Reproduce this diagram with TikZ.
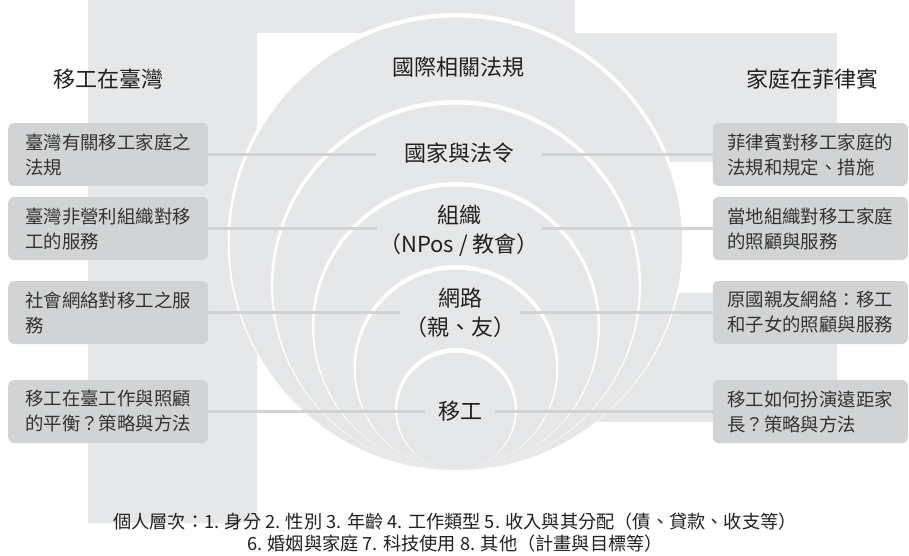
\documentclass[tikz,border=0pt]{standalone}
\usepackage{fontspec}
\newfontfamily\cjk{Noto Sans CJK TC}
\definecolor{bggray}{HTML}{E6E7E8}
\definecolor{boxgray}{HTML}{D1D3D4}
\definecolor{ink}{HTML}{231F20}
\definecolor{boxink}{HTML}{333333}
\begin{document}
\begin{tikzpicture}[x=1pt,y=-1pt,
  lab/.style={font=\cjk\fontsize{22}{29}\selectfont, text=ink, inner sep=0pt, outer sep=0pt, align=center},
  sidelab/.style={font=\cjk\fontsize{22}{28}\selectfont, text=ink, inner sep=0pt},
  boxl/.style={fill=boxgray, rounded corners=6pt, minimum height=63pt, text width=166pt,
    inner xsep=17pt, inner ysep=0pt, align=left, font=\cjk\fontsize{18.4}{25}\selectfont, text=boxink, anchor=west},
  boxr/.style={fill=boxgray, rounded corners=6pt, minimum height=63pt, text width=166pt,
    inner xsep=14.5pt, inner ysep=0pt, align=left, font=\cjk\fontsize{18.4}{25}\selectfont, text=boxink, anchor=east},
  conn/.style={draw=boxgray, line width=3pt},
]
\useasboundingbox (0,0) rectangle (909,555);
\fill[white] (0,0) rectangle (909,555);
% background gray shapes
\fill[bggray] (88,0) rectangle (575,33);
\fill[bggray] (88,0) rectangle (257,523);
\fill[bggray] (500,33) rectangle (837,162);
\fill[bggray] (560,293) rectangle (837,422);
% nested circles tangent at the bottom
\foreach \R in {228.5,185,144,102.5,61}{
  \fill[white] (456,{470-\R}) circle[radius={\R*1pt}];
  \fill[bggray] (456,{470-\R+2.3}) circle[radius={(\R-2.3)*1pt}];
}
% labels
\node[sidelab] (tl) at (108,79) {移工在臺灣};
\node[sidelab] (tr) at (812,79) {家庭在菲律賓};
\node[lab] (top) at (458,67) {國際相關法規};
\node[lab, minimum width=166pt] (c1) at (459,153.5) {國家與法令};
\node[lab, minimum width=165pt] (c2) at (459,231) {組織\\（NPos / 教會）};
\node[lab, minimum width=120pt] (c3) at (460,313) {網路\\（親、友）};
\node[lab, minimum width=70pt] (c4) at (460,411.5) {移工};
% boxes
\node[boxl] (l1) at (8,154.5) {臺灣有關移工家庭之\\法規};
\node[boxl] (l2) at (8,228.5) {臺灣非營利組織對移\\工的服務};
\node[boxl] (l3) at (8,312.5) {社會網絡對移工之服\\務};
\node[boxl] (l4) at (8,411.5) {移工在臺工作與照顧\\的平衡？策略與方法};
\node[boxr] (r1) at (908,154.5) {菲律賓對移工家庭的\\法規和規定、措施};
\node[boxr] (r2) at (908,228.5) {當地組織對移工家庭\\的照顧與服務};
\node[boxr] (r3) at (908,312.5) {原國親友網絡：移工\\和子女的照顧與服務};
\node[boxr] (r4) at (908,411.5) {移工如何扮演遠距家\\長？策略與方法};
% connectors
\foreach \i in {1,2,3,4}{
  \draw[conn] (l\i.east) -- (l\i.east -| c\i.west);
  \draw[conn] (r\i.west) -- (r\i.west -| c\i.east);
}
% bottom text
\node[font=\cjk\fontsize{18.2}{21.5}\selectfont, text=ink, align=center, inner sep=0pt] (foot) at (455,532.5)
  {個人層次：1. 身分 2. 性別 3. 年齡 4. 工作類型 5. 收入與其分配（債、貸款、收支等）\\
   6. 婚姻與家庭 7. 科技使用 8. 其他（計畫與目標等）};
\end{tikzpicture}
\end{document}
